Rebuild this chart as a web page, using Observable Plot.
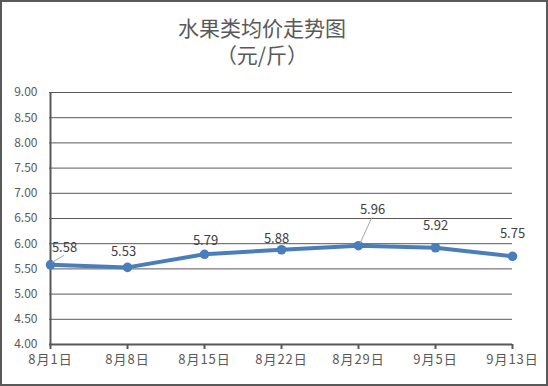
<!DOCTYPE html>
<html><head><meta charset="utf-8">
<script src="https://cdn.jsdelivr.net/npm/d3@7"></script>
<script src="https://cdn.jsdelivr.net/npm/@observablehq/plot@0.6"></script>
<style>
body{margin:0;background:#fff;}
#wrap{position:relative;width:548px;height:386px;overflow:hidden;background:#fff;font-family:"Noto Sans CJK SC",sans-serif;}
#title{position:absolute;left:0;top:0;width:524px;text-align:center;color:#595959;font-size:21px;line-height:27px;padding-top:14px;}
#chart{position:absolute;left:0;top:75px;}
#border{position:absolute;left:0;top:0;width:548px;height:386px;box-sizing:border-box;border:2px solid #595959;pointer-events:none;}
.xax text{letter-spacing:1px;}
</style></head>
<body>
<div id="wrap">
  <div id="title">水果类均价走势图<br>（元/斤）</div>
  <div id="chart"></div>
  <div id="border"></div>
</div>
<script>
const dates = ["8月1日","8月8日","8月15日","8月22日","8月29日","9月5日","9月13日"];
const prices = [5.58, 5.53, 5.79, 5.88, 5.96, 5.92, 5.75];
const yTicks = [4.0, 4.5, 5.0, 5.5, 6.0, 6.5, 7.0, 7.5, 8.0, 8.5, 9.0];
// label offsets (px) for data labels
const labelDx = [14, -4, 1, -5, 14, 0, 0];
const labelDy = [-17, -16, -13, -11, -36, -22, -22];
const leader = [true, false, false, false, true, false, false];

const data = dates.map((d, i) => ({date: d, price: prices[i], dx: labelDx[i], dy: labelDy[i], leader: leader[i]}));
const font = "'Noto Sans CJK SC', sans-serif";
const grid = "#595959";

const plot = Plot.plot({
  width: 548,
  height: 311,
  marginTop: 17,
  marginBottom: 42,
  marginLeft: 49,
  marginRight: 36,
  style: {fontFamily: font, background: "transparent", overflow: "visible"},
  x: {type: "point", domain: dates, padding: 0},
  y: {domain: [4, 9]},
  marks: [
    Plot.ruleY(yTicks.filter(t => t > 4), {stroke: grid, strokeWidth: 1}),
    Plot.axisY({ticks: yTicks, tickFormat: d3.format(".2f"), tickSize: 0, tickPadding: 12, fontSize: 12, fill: "#595959", label: null}),
    Plot.axisX({tickSize: 5, tickPadding: 5, fontSize: 13, fill: "#595959", stroke: grid, strokeWidth: 2, label: null, className: "xax"}),
    Plot.ruleY([4], {stroke: grid, strokeWidth: 2}),
    Plot.ruleX([dates[0]], {stroke: grid, strokeWidth: 2}),
    Plot.line(data, {x: "date", y: "price", stroke: "#4A7EBB", strokeWidth: 4}),
    Plot.dot(data, {x: "date", y: "price", fill: "#4A7EBB", r: 4.8}),
    ...data.map(d => Plot.text([d], {x: "date", y: "price", text: v => v.price.toFixed(2), dx: d.dx, dy: d.dy, fontSize: 13, fill: "#404040"}))
  ]
});
document.getElementById("chart").appendChild(plot);

// leader lines from points to labels
const xs = plot.scale("x"), ys = plot.scale("y");
const svg = d3.select(plot);
data.filter(d => d.leader).forEach(d => {
  const px = xs.apply(d.date), py = ys.apply(d.price);
  svg.append("line")
    .attr("x1", px + (d.dx > 0 ? 2 : 0)).attr("y1", py - 2)
    .attr("x2", px + d.dx).attr("y2", py + d.dy + 8)
    .attr("stroke", "#A6A6A6").attr("stroke-width", 1);
});
</script>
</body></html>
